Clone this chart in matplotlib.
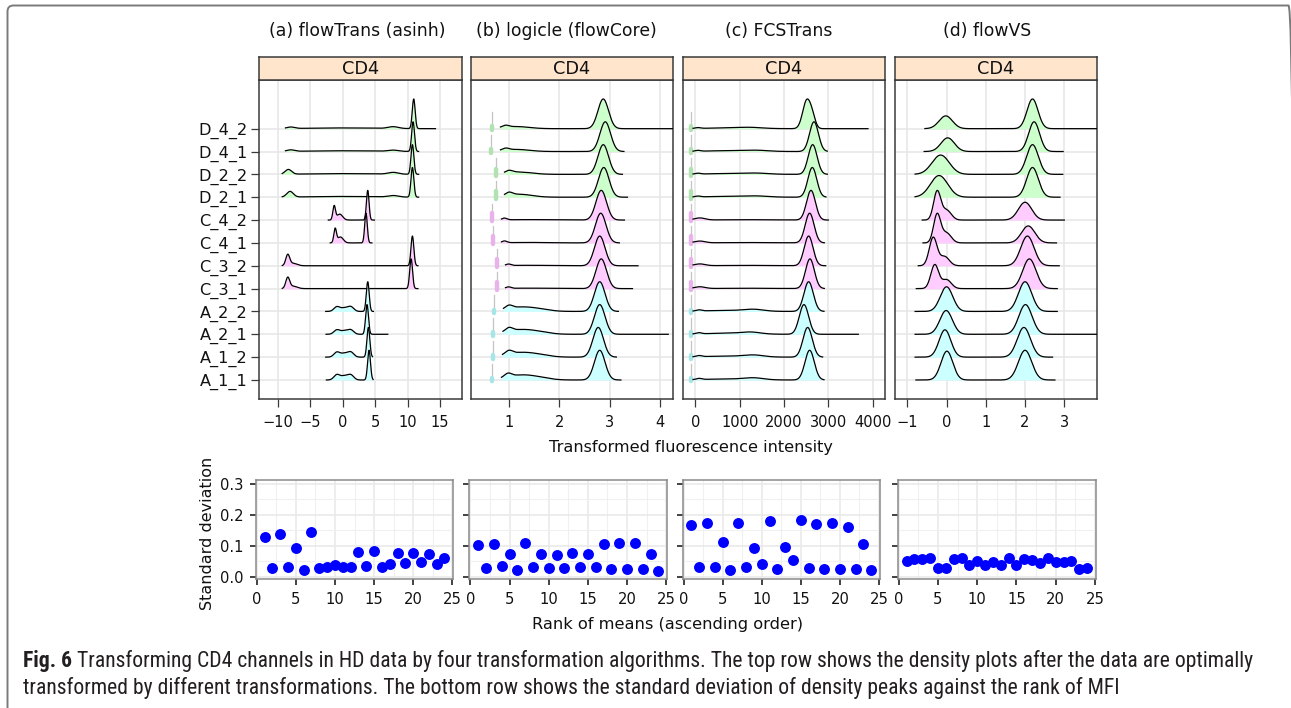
import numpy as np
import matplotlib
matplotlib.use("Agg")
import matplotlib.pyplot as plt
from matplotlib.patches import FancyBboxPatch
from matplotlib.transforms import IdentityTransform

W, H, DPI = 1291, 708, 100

# ---------------------------------------------------------------- data
samples = ["A_1_1", "A_1_2", "A_2_1", "A_2_2", "C_3_1", "C_3_2",
           "C_4_1", "C_4_2", "D_2_1", "D_2_2", "D_4_1", "D_4_2"]
group_fill = {"A": "#CCFFFF", "C": "#FFCCFF", "D": "#CCFFCC"}
group_spike = {"A": "#a6e6e6", "C": "#eab2ea", "D": "#b2e2b2"}

panel_titles = ["(a) flowTrans (asinh)", "(b) logicle (flowCore)",
                "(c) FCSTrans", "(d) flowVS"]
channel = "CD4"

# density shapes: per sample a list of (centre, spread, weight) components
asinh_lo = [-2.5, -2.6, -2.55, -2.6, -9.3, -9.3, -1.9, -2.2, -9.3, -9.3, -8.8, -8.8]
asinh_hi = [4.7, 4.6, 6.95, 4.74, 11.6, 11.6, 4.5, 4.9, 11.7, 11.7, 11.7, 14.3]
asinh_parts = [
    [(4.07, 0.22, 1.0), (-0.9, 0.45, 0.17), (0.3, 0.6, 0.14), (1.3, 0.45, 0.15)],
    [(3.97, 0.22, 1.0), (-0.9, 0.45, 0.16), (0.3, 0.6, 0.13), (1.3, 0.45, 0.15)],
    [(3.76, 0.22, 1.0), (-0.9, 0.45, 0.14), (0.3, 0.6, 0.12), (1.3, 0.45, 0.13)],
    [(3.87, 0.22, 1.0), (-0.9, 0.45, 0.15), (0.3, 0.6, 0.12), (1.3, 0.45, 0.14)],
    [(10.55, 0.22, 1.0), (-8.45, 0.3, 0.36), (-7.6, 0.6, 0.08)],
    [(10.75, 0.22, 1.0), (-8.45, 0.3, 0.36), (-7.6, 0.6, 0.08)],
    [(3.6, 0.2, 1.0), (-1.15, 0.2, 0.46), (-0.35, 0.45, 0.2)],
    [(3.87, 0.2, 1.0), (-1.3, 0.2, 0.46), (-0.45, 0.45, 0.2)],
    [(10.75, 0.22, 1.0), (-8.1, 0.5, 0.19), (0.0, 5.0, 0.025), (7.8, 0.8, 0.05)],
    [(10.75, 0.22, 1.0), (-8.35, 0.5, 0.16), (0.0, 5.0, 0.025), (7.8, 0.8, 0.06)],
    [(10.85, 0.22, 1.0), (-8.0, 0.6, 0.05), (0.0, 5.0, 0.025), (7.8, 0.8, 0.04)],
    [(10.95, 0.22, 1.0), (-8.0, 0.6, 0.05), (0.0, 5.0, 0.025), (7.8, 0.8, 0.06)],
]

logicle_lo = [0.85, 0.87, 0.88, 0.89, 0.93, 0.93, 0.85, 0.85, 0.91, 0.91, 0.83, 0.83]
logicle_hi = [3.22, 3.13, 4.16, 3.17, 3.45, 3.56, 3.19, 3.29, 3.35, 3.25, 3.28, 4.26]
logicle_parts = [
    [(2.80, 0.105, 1.0), (0.98, 0.07, 0.12), (1.25, 0.3, 0.17), (1.65, 0.2, 0.03)],
    [(2.77, 0.105, 1.0), (1.0, 0.07, 0.12), (1.25, 0.3, 0.16), (1.65, 0.2, 0.03)],
    [(2.80, 0.105, 1.0), (1.0, 0.07, 0.12), (1.25, 0.3, 0.16), (1.65, 0.2, 0.03)],
    [(2.80, 0.105, 1.0), (1.0, 0.07, 0.11), (1.25, 0.3, 0.15), (1.65, 0.2, 0.03)],
    [(2.83, 0.105, 1.0), (0.99, 0.05, 0.05), (1.4, 0.4, 0.015)],
    [(2.80, 0.105, 1.0), (0.99, 0.05, 0.05), (1.4, 0.4, 0.015)],
    [(2.82, 0.105, 1.0), (0.91, 0.05, 0.06), (1.4, 0.4, 0.015)],
    [(2.83, 0.105, 1.0), (0.91, 0.05, 0.06), (1.4, 0.4, 0.015)],
    [(2.88, 0.105, 1.0), (1.0, 0.07, 0.1), (1.2, 0.25, 0.1)],
    [(2.87, 0.105, 1.0), (1.0, 0.07, 0.08), (1.2, 0.25, 0.08)],
    [(2.91, 0.105, 1.0), (0.93, 0.07, 0.07), (1.15, 0.25, 0.07)],
    [(2.87, 0.105, 1.0), (0.93, 0.07, 0.07), (1.15, 0.25, 0.07)],
]
logicle_spike_x = [0.67, 0.69, 0.69, 0.70, 0.76, 0.76, 0.68, 0.67, 0.74, 0.75, 0.64, 0.66]

fcs_lo = [-50] * 12
fcs_hi = [2901, 2871, 3675, 2901, 2909, 2939, 2909, 2999, 2946, 2976, 2976, 3893]
fcs_parts = [
    [(2578, 105, 1.0), (80, 60, 0.04), (700, 500, 0.035), (1320, 220, 0.06)],
    [(2533, 105, 1.0), (80, 60, 0.04), (700, 500, 0.035), (1320, 220, 0.06)],
    [(2450, 105, 1.0), (80, 60, 0.04), (700, 500, 0.035), (1250, 220, 0.06)],
    [(2555, 105, 1.0), (80, 60, 0.04), (700, 500, 0.035), (1320, 220, 0.06)],
    [(2585, 100, 1.0), (100, 120, 0.06), (1200, 600, 0.012)],
    [(2555, 100, 1.0), (100, 120, 0.06), (1200, 600, 0.012)],
    [(2578, 100, 1.0), (100, 120, 0.06), (1200, 600, 0.012)],
    [(2608, 100, 1.0), (100, 120, 0.07), (1200, 600, 0.012)],
    [(2638, 100, 1.0), (60, 60, 0.03), (800, 500, 0.03), (1400, 250, 0.03)],
    [(2646, 100, 1.0), (60, 60, 0.03), (800, 500, 0.03), (1400, 250, 0.03)],
    [(2676, 100, 1.0), (60, 60, 0.03), (800, 500, 0.03), (1400, 250, 0.03)],
    [(2510, 90, 1.0), (2640, 70, 0.35), (60, 60, 0.03), (800, 500, 0.03), (1250, 250, 0.03)],
]
fcs_spike_x = [-105] * 12

vs_lo = [-0.78, -0.8, -0.8, -0.8, -0.77, -0.72, -0.6, -0.62, -0.8, -0.8, -0.57, -0.55]
vs_hi = [2.76, 2.7, 3.82, 2.82, 2.82, 2.87, 2.8, 3.0, 2.89, 2.96, 2.97, 3.82]
vs_parts = [
    [(0.01, 0.15, 0.97), (2.0, 0.17, 1.0)],
    [(-0.04, 0.15, 0.92), (1.97, 0.17, 1.0)],
    [(-0.01, 0.16, 0.8), (2.01, 0.17, 1.0)],
    [(0.0, 0.16, 0.83), (2.0, 0.17, 1.0)],
    [(-0.3, 0.1, 0.8), (0.0, 0.12, 0.3), (2.11, 0.17, 1.0)],
    [(-0.34, 0.1, 0.92), (-0.05, 0.12, 0.3), (2.06, 0.17, 0.97)],
    [(-0.24, 0.09, 1.0), (0.0, 0.12, 0.35), (2.08, 0.17, 0.6)],
    [(-0.24, 0.09, 1.0), (0.0, 0.12, 0.35), (2.0, 0.17, 0.63)],
    [(-0.19, 0.22, 0.73), (2.19, 0.15, 1.0)],
    [(-0.15, 0.22, 0.65), (2.19, 0.15, 1.0)],
    [(0.03, 0.17, 0.46), (2.23, 0.14, 1.0)],
    [(-0.02, 0.17, 0.43), (2.19, 0.14, 1.0)],
]

# spike of piled-up low values: box height above the baseline (row units)
spike_box = [0.08, 0.08, 0.08, 0.08, 0.3, 0.3, 0.3, 0.3, 0.25, 0.25, 0.12, 0.12]

top_ticks = [[-10, -5, 0, 5, 10, 15], [1, 2, 3, 4],
             [0, 1000, 2000, 3000, 4000], [-1, 0, 1, 2, 3]]
top_xlim = [(-12.83, 18.34), (0.24, 4.26), (-284, 4277), (-1.32, 3.84)]

rank = list(range(1, 25))
sd_asinh = [0.128, 0.029, 0.139, 0.030, 0.092, 0.021, 0.143, 0.029, 0.031, 0.038,
            0.031, 0.031, 0.080, 0.034, 0.083, 0.030, 0.041, 0.075, 0.043, 0.075,
            0.048, 0.073, 0.041, 0.061]
sd_logicle = [0.102, 0.029, 0.107, 0.033, 0.074, 0.022, 0.109, 0.032, 0.072, 0.029,
              0.069, 0.029, 0.076, 0.032, 0.072, 0.031, 0.105, 0.025, 0.110, 0.025,
              0.108, 0.026, 0.074, 0.019]
sd_fcs = [0.166, 0.030, 0.173, 0.032, 0.112, 0.022, 0.173, 0.031, 0.093, 0.042,
          0.180, 0.026, 0.095, 0.053, 0.182, 0.028, 0.170, 0.024, 0.174, 0.024,
          0.161, 0.026, 0.107, 0.020]
sd_vs = [0.051, 0.057, 0.057, 0.061, 0.029, 0.029, 0.058, 0.060, 0.039, 0.051,
         0.038, 0.046, 0.038, 0.061, 0.038, 0.057, 0.055, 0.044, 0.061, 0.046,
         0.046, 0.051, 0.025, 0.027]

caption_bold = "Fig. 6"
caption_line1 = (" Transforming CD4 channels in HD data by four transformation algorithms. "
                 "The top row shows the density plots after the data are optimally")
caption_line2 = ("transformed by different transformations. The bottom row shows the "
                 "standard deviation of density peaks against the rank of MFI")

# ---------------------------------------------------------------- layout
PEAK = 1.3          # curve height, in row units
EDGE = "#3a3a3a"
GRID = "#e6e6e6"

plt.rcParams["font.family"] = ["DejaVu Sans"]
fig = plt.figure(figsize=(W / DPI, H / DPI), dpi=DPI)
fig.patch.set_facecolor("white")


def px_axes(x0, y0, x1, y1):
    return fig.add_axes([x0 / W, 1 - y1 / H, (x1 - x0) / W, (y1 - y0) / H])


def density(parts, lo, hi):
    x = np.linspace(lo, hi, 600)
    y = np.zeros_like(x)
    for c, s, w in parts:
        y += w * np.exp(-0.5 * ((x - c) / s) ** 2)
    return x, y / y.max() * PEAK


top_cols = [(259.3, 461.7), (470.7, 673.3), (682.7, 885.0), (894.7, 1097.3)]
title_cx = [357.5, 566.0, 779.0, 987.5]
los = [asinh_lo, logicle_lo, fcs_lo, vs_lo]
his = [asinh_hi, logicle_hi, fcs_hi, vs_hi]
partss = [asinh_parts, logicle_parts, fcs_parts, vs_parts]
spikes = [None, logicle_spike_x, fcs_spike_x, None]
rows = np.arange(1, len(samples) + 1)

for k, (x0, x1) in enumerate(top_cols):
    ax = px_axes(x0, 80, x1, 399)
    ax.set_xlim(*top_xlim[k])
    ax.set_ylim(0.168, 14.13)
    ax.set_xticks(top_ticks[k])
    ax.set_yticks(rows)
    ax.grid(True, color=GRID, lw=1.1, zorder=0)
    ax.set_axisbelow(True)
    for sp in ax.spines.values():
        sp.set_color(EDGE)
        sp.set_linewidth(1.1)
    ax.tick_params(axis="x", length=5.5, width=0.9, color=EDGE, pad=6,
                   labelsize=10.5, labelcolor="#111111")
    if k == 0:
        ax.set_yticklabels(samples)
        ax.tick_params(axis="y", length=5.5, width=0.9, color=EDGE, pad=3,
                       labelsize=11.6, labelcolor="#111111")
    else:
        ax.tick_params(axis="y", length=0, labelleft=False)

    # draw from the top row down so lower curves sit in front
    for i in range(len(samples) - 1, -1, -1):
        r = rows[i]
        g = samples[i][0]
        x, y = density(partss[k][i], los[k][i], his[k][i])
        z = 3 + (len(samples) - i) * 0.1
        ax.fill_between(x, r, r + y, color=group_fill[g], lw=0, zorder=z)
        ax.plot(x, r + y, color="black", lw=0.9, zorder=z + 0.05)
        if spikes[k] is not None:
            sx = spikes[k][i]
            ax.plot([sx, sx], [r, r + 0.72], color="#c4c4c4", lw=0.9, zorder=z + 0.02)
            ax.plot([sx, sx], [r - 0.06, r + spike_box[i]], color=group_spike[g],
                    lw=3.2, solid_capstyle="round", zorder=z + 0.03)

    # strip
    st = px_axes(x0, 57, x1, 80)
    st.set_facecolor("#FFE5CC")
    st.set_xticks([])
    st.set_yticks([])
    for sp in st.spines.values():
        sp.set_color(EDGE)
        sp.set_linewidth(1.1)
    st.text(0.5, 0.46, channel, ha="center", va="center", fontsize=12.8,
            color="#111111", transform=st.transAxes)

    fig.text(title_cx[k] / W, 1 - 31.5 / H, panel_titles[k], ha="center",
             va="center", fontsize=12.4, color="#111111")

fig.text(690.7 / W, 1 - 447.7 / H, "Transformed fluorescence intensity",
         ha="center", va="center", fontsize=11.6, color="#111111")

# ---------------------------------------------------------------- bottom row
bot_cols = [(255.7, 453.3), (469.3, 667.3), (682.5, 880.0), (897.7, 1096.0)]
sds = [sd_asinh, sd_logicle, sd_fcs, sd_vs]
for k, (x0, x1) in enumerate(bot_cols):
    ax = px_axes(x0, 480, x1, 579.3)
    ax.set_xlim(-0.13, 25.13)
    ax.set_ylim(-0.0084, 0.3117)
    ax.set_xticks([0, 5, 10, 15, 20, 25])
    ax.set_yticks([0.0, 0.1, 0.2, 0.3])
    ax.set_xticks(np.arange(2.5, 25, 5), minor=True)
    ax.set_yticks([0.05, 0.15, 0.25], minor=True)
    ax.grid(True, which="major", color="#e8e8e8", lw=1.1, zorder=0)
    ax.grid(True, which="minor", color="#f0f0f0", lw=0.8, zorder=0)
    ax.set_axisbelow(True)
    for sp in ax.spines.values():
        sp.set_color("#8a8a8a")
        sp.set_linewidth(1.1)
    ax.tick_params(which="minor", length=0)
    ax.tick_params(which="major", length=4, width=1.2, color="#222222", pad=5,
                   labelsize=10.6, labelcolor="#111111")
    if k == 0:
        ax.set_yticklabels(["0.0", "0.1", "0.2", "0.3"])
    else:
        ax.tick_params(axis="y", labelleft=False)
    ax.scatter(rank, sds[k], s=62, color="#0000FF", lw=0, zorder=3, clip_on=False)

fig.text(208 / W, 1 - 533 / H, "Standard deviation", rotation=90, ha="center",
         va="center", fontsize=11.5, color="#111111")
fig.text(667.5 / W, 1 - 624.3 / H, "Rank of means (ascending order)",
         ha="center", va="center", fontsize=11.7, color="#111111")

# ---------------------------------------------------------------- caption
cap_font = ["Roboto Condensed", "Liberation Sans Narrow", "Roboto", "DejaVu Sans"]
size = 11.0
renderer = fig.canvas.get_renderer()
tb = fig.text(23 / W, 1 - 661 / H, caption_bold, fontsize=size, fontweight="bold",
              family=cap_font, va="center", ha="left", color="#231F20")
tr = fig.text(0, 1 - 661 / H, caption_line1, fontsize=size, family=cap_font,
              va="center", ha="left", color="#231F20")
t2 = fig.text(23 / W, 1 - 688 / H, caption_line2, fontsize=size, family=cap_font,
              va="center", ha="left", color="#231F20")
wb = tb.get_window_extent(renderer).width
wr = tr.get_window_extent(renderer).width
scale = (1252 - 23) / (wb + wr)
size *= scale
for t in (tb, tr, t2):
    t.set_fontsize(size)
wb = tb.get_window_extent(renderer).width
tr.set_x((23 + wb) / W)

# rounded frame around the figure
frame = FancyBboxPatch((7.5, -30), 1287.0, H - 5.5 + 30,
                       boxstyle="round,pad=0,rounding_size=6",
                       transform=IdentityTransform(), facecolor="none",
                       edgecolor="#7a7a7a", lw=1.4)
fig.add_artist(frame)

fig.savefig("out.png", dpi=DPI, facecolor="white")
